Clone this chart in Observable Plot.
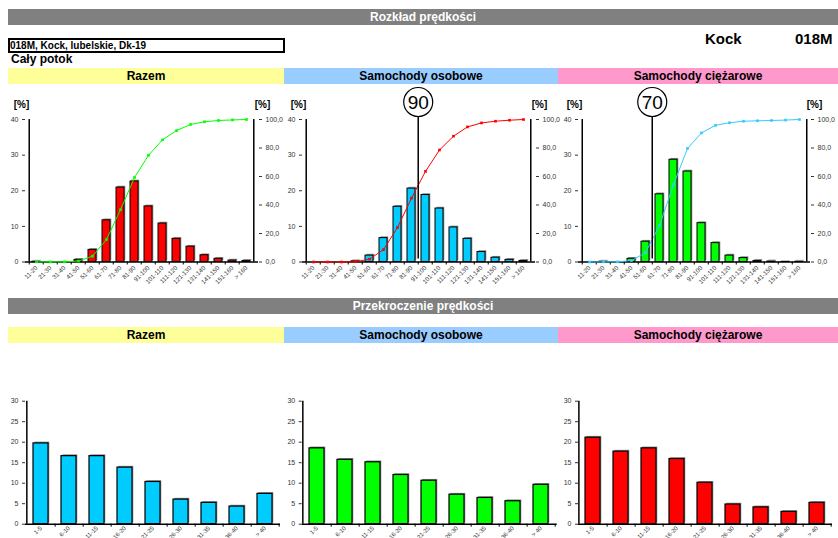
<!DOCTYPE html>
<html><head><meta charset="utf-8">
<script src="https://cdn.jsdelivr.net/npm/d3@7"></script>
<script src="https://cdn.jsdelivr.net/npm/@observablehq/plot@0.6"></script>
<style>
body{margin:0;width:838px;height:538px;overflow:hidden;position:relative;background:#fff;font-family:"Liberation Sans",Arial,sans-serif;}
.abs{position:absolute;}
.gray{position:absolute;left:8px;width:830px;height:16px;background:#808080;color:#fff;font-weight:bold;font-size:12px;text-align:center;line-height:16px;}
.band{position:absolute;height:16px;font-weight:bold;font-size:12px;text-align:center;line-height:16px;color:#000;}
.chart{position:absolute;}
.chart svg{overflow:visible;}
</style></head><body>
<div class="gray" style="top:9px">Rozkład prędkości</div>
<div class="abs" style="left:8px;top:38px;width:273px;height:11px;border:2px solid #000;font-weight:bold;font-size:10px;line-height:11px;padding-left:0px;">018M, Kock, lubelskie, Dk-19</div>
<div class="abs" style="left:705px;top:30px;font-weight:bold;font-size:15px;">Kock</div>
<div class="abs" style="left:795px;top:30px;font-weight:bold;font-size:15px;">018M</div>
<div class="abs" style="left:11px;top:52px;font-weight:bold;font-size:12px;">Cały potok</div>
<div class="band" style="top:68px;left:8px;width:276px;background:#FFFF99">Razem</div>
<div class="band" style="top:68px;left:284px;width:274px;background:#99CCFF">Samochody osobowe</div>
<div class="band" style="top:68px;left:558px;width:280px;background:#FF99CC">Samochody ciężarowe</div>
<div class="gray" style="top:298px">Przekroczenie prędkości</div>
<div class="band" style="top:327px;left:8px;width:276px;background:#FFFF99">Razem</div>
<div class="band" style="top:327px;left:284px;width:274px;background:#99CCFF">Samochody osobowe</div>
<div class="band" style="top:327px;left:558px;width:280px;background:#FF99CC">Samochody ciężarowe</div>
<div id="t1" class="chart" style="left:0px;top:86px"></div>
<div id="t2" class="chart" style="left:280px;top:86px"></div>
<div id="t3" class="chart" style="left:558px;top:86px"></div>
<div id="b1" class="chart" style="left:0px;top:380px"></div>
<div id="b2" class="chart" style="left:280px;top:380px"></div>
<div id="b3" class="chart" style="left:558px;top:380px"></div>
<script>
// ---- data ----
const speedBins = ["11-20","21-30","31-40","41-50","51-60","61-70","71-80","81-90","91-100","101-110","111-120","121-130","131-140","141-150","151-160","> 160"];
const razemShare    = [0.1, 0.0, 0.0, 0.6, 3.4, 11.7, 20.9, 22.6, 15.6, 10.8, 6.5, 4.3, 1.9, 0.9, 0.4, 0.3];
const razemCum      = [0.1, 0.1, 0.1, 0.7, 4.1, 15.8, 36.7, 59.3, 74.9, 85.7, 92.2, 96.5, 98.4, 99.3, 99.7, 100];
const osoboweShare  = [0.0, 0.0, 0.0, 0.2, 1.8, 6.7, 15.5, 20.6, 18.8, 15.0, 9.7, 6.5, 2.8, 1.2, 0.6, 0.3];
const osoboweCum    = [0.0, 0.0, 0.0, 0.2, 2.0, 8.7, 24.2, 44.8, 63.6, 78.6, 88.3, 94.8, 97.6, 98.8, 99.5, 100];
const ciezaroweShare= [0.0, 0.1, 0.0, 0.9, 5.7, 19.0, 28.7, 25.4, 10.9, 5.3, 1.8, 1.1, 0.3, 0.15, 0.05, 0.1];
const ciezaroweCum  = [0.0, 0.1, 0.1, 1.0, 6.6, 25.6, 54.3, 79.7, 90.6, 95.9, 97.7, 98.8, 99.1, 99.3, 99.6, 100];
const leftTicks  = [0, 10, 20, 30, 40];
const rightTicks = [0, 20, 40, 60, 80, 100];
const limitLabels = ["90", "70"];          // osobowe, ciężarowe
const limitBins   = ["91-100", "61-70"];   // bin whose left edge marks the limit

const excessBins = ["1-5","6-10","11-15","16-20","21-25","26-30","31-35","36-40","> 40"];
const excessRazem     = [19.7, 16.6, 16.6, 13.8, 10.3, 6.0, 5.2, 4.3, 7.4];
const excessOsobowe   = [18.5, 15.7, 15.1, 12.0, 10.6, 7.2, 6.4, 5.6, 9.6];
const excessCiezarowe = [21.1, 17.7, 18.5, 15.9, 10.1, 4.8, 4.1, 3.0, 5.2];
const excessTicks = [0, 5, 10, 15, 20, 25, 30];

// ---- drawing ----
const FONT = "Liberation Sans, Arial, sans-serif";
const W = 280;

function topChart(id, share, cum, barColor, lineColor, ml, mr, limitBin, limitLabel) {
  const H = 204, MT = 33, MB = 28.5;
  const n = speedBins.length;
  const step = (W - ml - mr) / n;
  const data = speedBins.map((bin, i) => ({bin, share: share[i], cum: cum[i]}));
  const k = leftTicks[leftTicks.length - 1] / rightTicks[rightTicks.length - 1];
  const marks = [
    Plot.barY(data, {x: "bin", y: "share", fill: "#8a8a8a", dx: 1.3, dy: -1.3}),
    Plot.barY(data, {x: "bin", y: "share", fill: barColor, stroke: "#000", strokeWidth: 1}),
    Plot.ruleY([0], {stroke: "#000", strokeWidth: 1.5}),
    Plot.ruleX([speedBins[0]], {x: d => d, dx: -step / 2, stroke: "#000", strokeWidth: 1.5}),
    Plot.ruleX([speedBins[n - 1]], {x: d => d, dx: step / 2, stroke: "#000", strokeWidth: 1.5}),
    Plot.axisX({tickSize: 3, tickFormat: () => "", dx: -step / 2, color: "#000"}),
    Plot.axisX({tickSize: 0, tickPadding: 5, tickRotate: -45, fontSize: 6.2, color: "#333", label: null}),
    Plot.axisY({ticks: leftTicks, tickSize: 3, tickPadding: 4, fontSize: 7, color: "#333", label: null}),
    Plot.axisY({anchor: "right", ticks: rightTicks.map(v => v * k),
      tickFormat: v => (v / k).toFixed(1).replace(".", ","), tickSize: 3, tickPadding: 4, fontSize: 7, color: "#333", label: null}),
    Plot.line(data, {x: "bin", y: d => d.cum * k, stroke: lineColor, strokeWidth: 1}),
    Plot.dot(data, {x: "bin", y: d => d.cum * k, symbol: "square", r: 1.5, fill: lineColor}),
    Plot.text(["[%]"], {text: d => d, frameAnchor: "top-left", lineAnchor: "middle", dx: -4, dy: -15, fontSize: 10, fontWeight: "bold", textAnchor: "middle"}),
    Plot.text(["[%]"], {text: d => d, frameAnchor: "top-right", lineAnchor: "middle", dx: 4, dy: -15, fontSize: 10, fontWeight: "bold", textAnchor: "middle"})
  ];
  if (limitBin) {
    marks.push(
      Plot.ruleX([limitBin], {x: d => d, dx: -step / 2, insetTop: -4, insetBottom: 3, stroke: "#000", strokeWidth: 1.5}),
      Plot.dot([limitBin], {x: d => d, frameAnchor: "top", dx: -step / 2, dy: -17.5, r: 14.5, fill: "#fff", stroke: "#000", strokeWidth: 1.2}),
      Plot.text([limitLabel], {x: () => limitBin, text: d => d, frameAnchor: "top", lineAnchor: "middle", dx: -step / 2, dy: -17, fontSize: 19, fill: "#000"})
    );
  }
  const plot = Plot.plot({
    width: W, height: H, marginLeft: ml, marginRight: mr, marginTop: MT, marginBottom: MB,
    x: {domain: speedBins, paddingInner: 0.4, paddingOuter: 0.2, label: null},
    y: {domain: [0, 40], label: null},
    style: {fontFamily: FONT, background: "transparent", overflow: "visible"},
    marks
  });
  document.getElementById(id).append(plot);
}

function bottomChart(id, values, barColor, ml, mr) {
  const H = 180, MT = 20.7, MB = 36.3;
  const n = excessBins.length;
  const step = (W - ml - mr) / n;
  const data = excessBins.map((bin, i) => ({bin, v: values[i]}));
  const plot = Plot.plot({
    width: W, height: H, marginLeft: ml, marginRight: mr, marginTop: MT, marginBottom: MB,
    x: {domain: excessBins, paddingInner: 0.45, paddingOuter: 0.225, label: null},
    y: {domain: [0, 30], label: null},
    style: {fontFamily: FONT, background: "transparent", overflow: "visible"},
    marks: [
      Plot.barY(data, {x: "bin", y: "v", fill: "#8a8a8a", dx: 1.3, dy: -1.3}),
      Plot.barY(data, {x: "bin", y: "v", fill: barColor, stroke: "#000", strokeWidth: 1.2}),
      Plot.ruleY([0], {stroke: "#000", strokeWidth: 1.5}),
      Plot.ruleX([excessBins[0]], {x: d => d, dx: -step / 2, stroke: "#000", strokeWidth: 1.5}),
      Plot.axisX({tickSize: 3, tickFormat: () => "", dx: step / 2, color: "#000"}),
      Plot.axisX({tickSize: 0, tickPadding: 3, tickRotate: -45, fontSize: 6, color: "#333", label: null}),
      Plot.axisY({ticks: excessTicks, tickSize: 3, tickPadding: 4, fontSize: 7, color: "#333", label: null})
    ]
  });
  document.getElementById(id).append(plot);
}

topChart("t1", razemShare, razemCum, "#FF0000", "#00FF00", 25, 22, null, null);
topChart("t2", osoboweShare, osoboweCum, "#00CCFF", "#FF0000", 22, 25, limitBins[0], limitLabels[0]);
topChart("t3", ciezaroweShare, ciezaroweCum, "#00FF00", "#33CCFF", 20, 28, limitBins[1], limitLabels[1]);
bottomChart("b1", excessRazem, "#00CCFF", 25, 0);
bottomChart("b2", excessOsobowe, "#00FF00", 21.7, 3.3);
bottomChart("b3", excessCiezarowe, "#FF0000", 20, 6);
</script>
</body></html>
